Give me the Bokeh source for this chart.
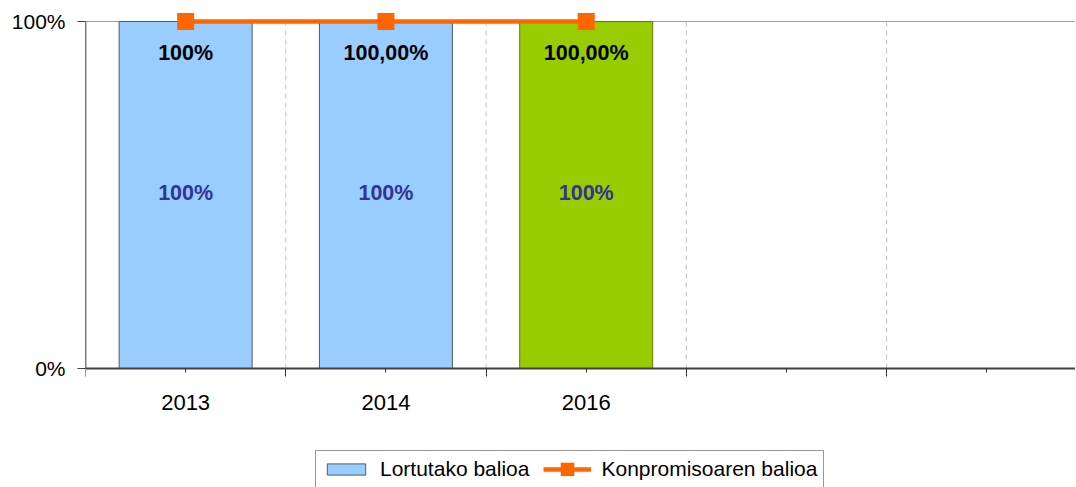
from bokeh.plotting import figure
from bokeh.models import (ColumnDataSource, Range1d, FixedTicker, Legend, LegendItem)
from bokeh.core.properties import value
from bokeh.embed import file_html
from bokeh.resources import INLINE

# ---- data ----
categories = ["2013", "2014", "2016", "", ""]
bar_values = [100, 100, 100]
bar_colors = ["#99CCFF", "#99CCFF", "#99CC00"]
bar_outline = ["#4F5B69", "#4F5B69", "#5E7A10"]
commit_values = [100, 100, 100]
top_labels = ["100%", "100,00%", "100,00%"]
mid_labels = ["100%", "100%", "100%"]
y_ticks = [0, 100]
y_tick_labels = ["0%", "100%"]

FONT = "Liberation Sans"
n_bars = len(bar_values)
xc = [i + 0.5 for i in range(n_bars)]

# frame spans the whole lower area; the x axis sits at y = 0 inside it
p = figure(width=1076, height=487, output_backend="svg", toolbar_location=None,
           x_range=Range1d(0, 4.943), y_range=Range1d(-34.29, 102.88),
           frame_width=990, frame_height=476,
           min_border_left=85, min_border_right=0, min_border_top=11,
           min_border_bottom=0)
p.outline_line_color = None
p.background_fill_color = "white"
p.border_fill_color = "white"
p.xgrid.visible = False

# dashed vertical category separators, only inside the 0..100% band
sep = list(range(1, len(categories)))
p.segment(x0=sep, y0=[y_ticks[0]] * len(sep), x1=sep, y1=[y_ticks[-1]] * len(sep),
          line_color="#C0C0C0", line_width=1, line_dash="5 4")

src = ColumnDataSource(dict(x=xc, top=bar_values, color=bar_colors, lc=bar_outline,
                            top_label=top_labels, mid_label=mid_labels))
bars = p.vbar(x="x", top="top", bottom=0, width=0.664, fill_color="color",
              line_color="lc", line_width=1, source=src)

lsrc = ColumnDataSource(dict(x=xc, y=commit_values))
ln = p.line("x", "y", source=lsrc, line_color="#FF6600", line_width=4.5)
mk = p.scatter("x", "y", source=lsrc, marker="square", size=9,
               fill_color="#FF6600", line_color="#FF6600", line_width=8,
               line_join="miter")

p.text(x="x", y=90.8, text="top_label", source=src, text_font=value(FONT),
       text_font_size="21.5px", text_font_style="bold", text_color="black",
       text_align="center", text_baseline="middle")
p.text(x="x", y=50.7, text="mid_label", source=src, text_font=value(FONT),
       text_font_size="21.5px", text_font_style="bold", text_color="#333399",
       text_align="center", text_baseline="middle")

# y axis line only between 0% and 100%
p.segment(x0=[0], y0=[y_ticks[0]], x1=[0], y1=[y_ticks[-1]],
          line_color="black", line_width=1.5)

# x axis, fixed at y = 0
xa = p.xaxis[0]
xa.fixed_location = 0
xa.ticker = FixedTicker(ticks=[i + 0.5 for i in range(len(categories))],
                        minor_ticks=list(range(len(categories) + 1)))
xa.major_label_overrides = {i + 0.5: c for i, c in enumerate(categories)}
xa.major_tick_in = 0
xa.major_tick_out = 4
xa.minor_tick_in = 0
xa.minor_tick_out = 8
xa.major_tick_line_color = "#333333"
xa.minor_tick_line_color = "#333333"
xa.axis_line_color = "#404040"
xa.axis_line_width = 2
xa.major_label_text_font = FONT
xa.major_label_text_font_size = "22px"
xa.major_label_text_color = "black"
xa.major_label_standoff = 18

# y axis
ya = p.yaxis[0]
ya.ticker = FixedTicker(ticks=y_ticks, minor_ticks=[])
ya.major_label_overrides = {t: l for t, l in zip(y_ticks, y_tick_labels)}
ya.major_tick_in = 0
ya.major_tick_out = 8
ya.major_tick_line_color = "#404040"
ya.axis_line_color = None
ya.major_label_text_font = FONT
ya.major_label_text_font_size = "21px"
ya.major_label_text_color = "black"
ya.major_label_standoff = 12

p.ygrid.ticker = FixedTicker(ticks=[100])
p.ygrid.grid_line_color = "#A0A0A0"

legend = Legend(items=[
    LegendItem(label="Lortutako balioa", renderers=[bars], index=0),
    LegendItem(label="Konpromisoaren balioa", renderers=[ln, mk]),
], orientation="horizontal", location=(230, -1))
legend.label_text_font = FONT
legend.label_text_font_size = "21px"
legend.label_text_color = "black"
legend.glyph_width = 48
legend.glyph_height = 14
legend.spacing = 14
legend.padding = 6
legend.margin = 0
legend.label_standoff = 10
legend.border_line_color = "#333333"
legend.border_line_width = 1
legend.background_fill_alpha = 1
p.add_layout(legend, "center")

open("out.html", "w").write(file_html(p, INLINE))
